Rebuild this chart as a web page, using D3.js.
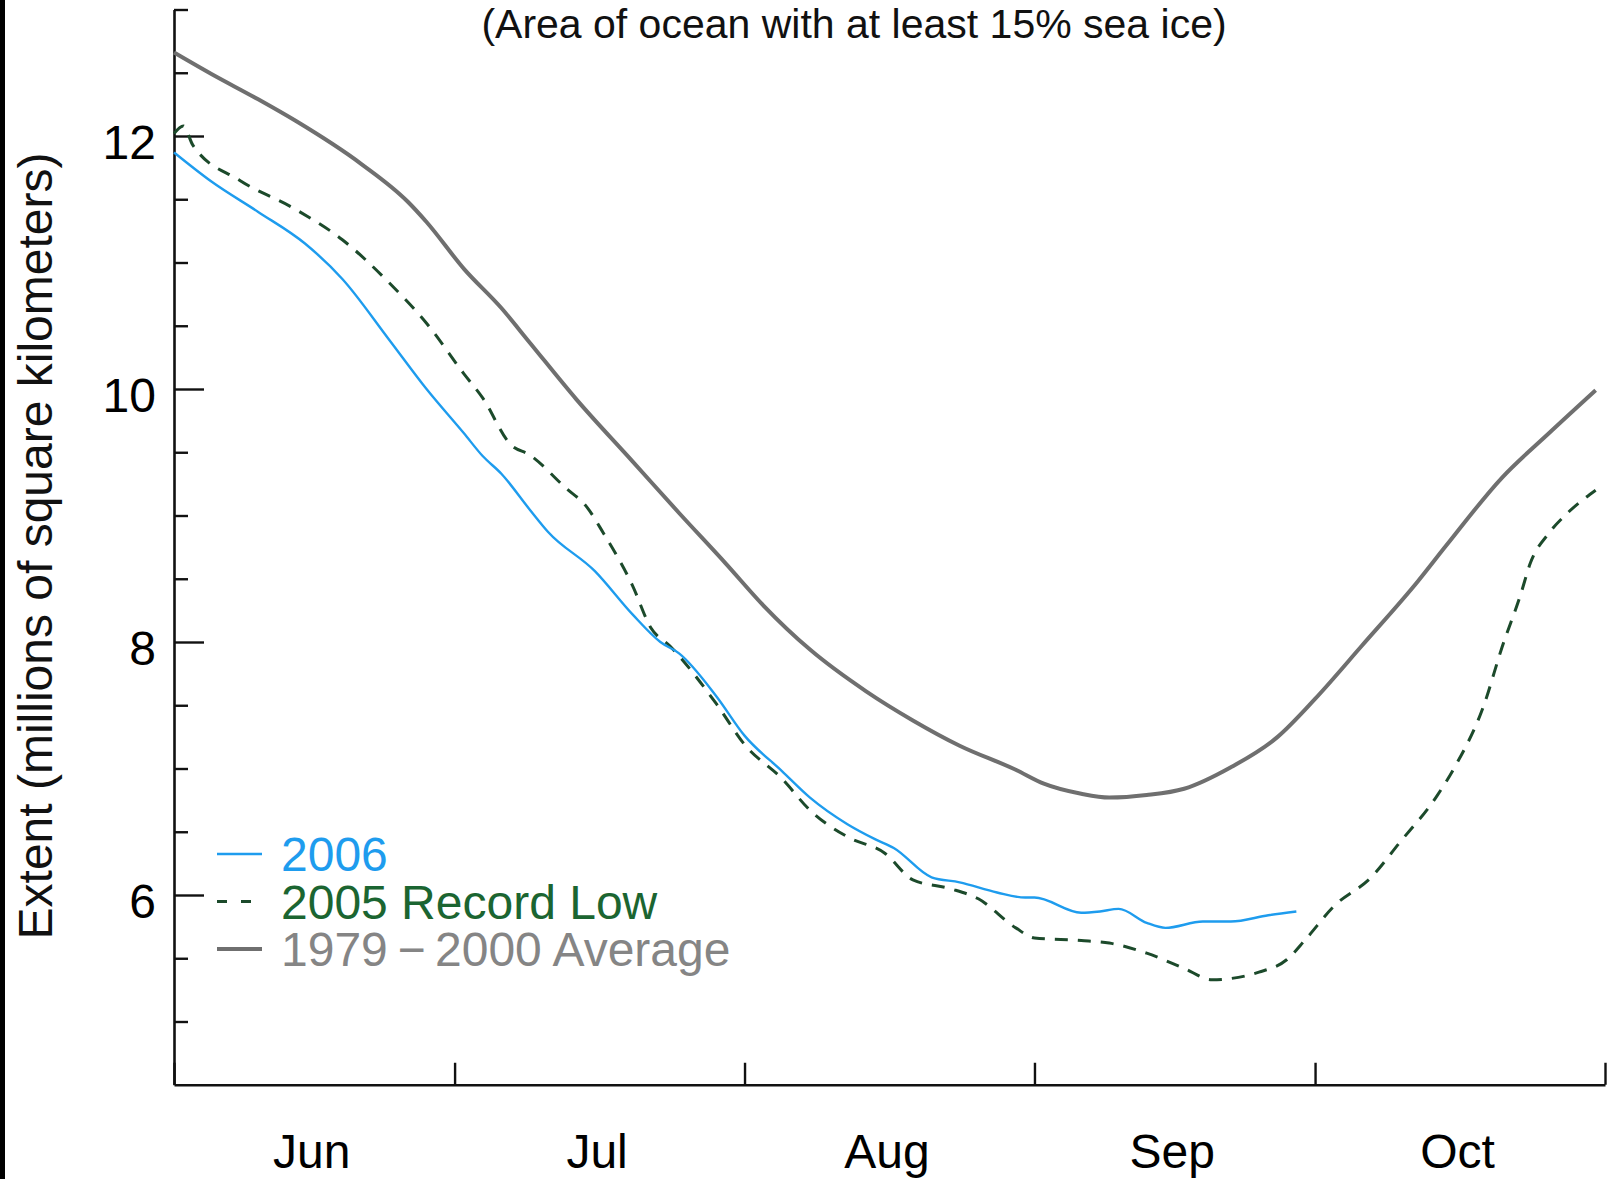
<!DOCTYPE html>
<html>
<head>
<meta charset="utf-8">
<script src="https://cdn.jsdelivr.net/npm/d3@7"></script>
<style>
  html, body { margin: 0; padding: 0; background: #fff; }
  svg { display: block; }
  text { font-family: "Liberation Sans", Arial, Helvetica, sans-serif; }
</style>
</head>
<body>
<svg id="chart" width="1607" height="1179"></svg>
<script>
// Arctic sea ice extent, June through October (millions of km²).
// Day offsets are counted from June 1.

const avgDays   = [0, 4, 9, 13, 20, 25, 27, 31, 35, 38, 43, 49, 54, 59, 63, 68, 74, 79, 84, 90, 93, 97, 100, 104, 108, 113, 118, 122, 127, 133, 136, 142, 147, 152];
const avgExtent = [12.66, 12.49, 12.29, 12.12, 11.78, 11.48, 11.32, 10.95, 10.64, 10.37, 9.92, 9.43, 9.02, 8.62, 8.29, 7.94, 7.61, 7.38, 7.18, 6.99, 6.88, 6.80, 6.77, 6.79, 6.84, 7.01, 7.25, 7.55, 7.97, 8.48, 8.76, 9.30, 9.65, 9.99];

const y2006Days   = [0, 4, 9, 14, 18, 23, 27, 31, 33, 35, 38, 40, 45, 49, 52, 54, 58, 61, 65, 68, 72, 75, 77, 81, 84, 88, 91, 92, 97, 99, 101, 104, 106, 110, 113, 117, 120];
const y2006Extent = [11.87, 11.64, 11.40, 11.15, 10.87, 10.39, 10.00, 9.65, 9.47, 9.33, 9.05, 8.87, 8.56, 8.22, 8.00, 7.91, 7.57, 7.26, 6.98, 6.77, 6.56, 6.44, 6.37, 6.14, 6.10, 6.02, 5.98, 5.98, 5.86, 5.87, 5.89, 5.78, 5.74, 5.79, 5.79, 5.84, 5.87];

const y2005Days   = [0, 1, 2, 7, 13, 18, 23, 27, 31, 33, 36, 38, 42, 44, 46, 49, 51, 53, 58, 61, 65, 68, 72, 76, 79, 83, 86, 90, 92, 97, 100, 104, 108, 111, 113, 116, 119, 121, 124, 128, 131, 135, 137, 140, 142, 144, 145, 147, 149, 152];
const y2005Extent = [12.02, 12.08, 11.93, 11.65, 11.42, 11.18, 10.84, 10.52, 10.12, 9.93, 9.56, 9.48, 9.21, 9.08, 8.85, 8.45, 8.11, 7.97, 7.51, 7.19, 6.92, 6.67, 6.46, 6.33, 6.12, 6.05, 5.97, 5.74, 5.66, 5.64, 5.62, 5.54, 5.42, 5.33, 5.34, 5.39, 5.49, 5.65, 5.91, 6.14, 6.41, 6.78, 7.02, 7.49, 7.96, 8.38, 8.62, 8.86, 9.02, 9.20];

const yMajorTicks = [6, 8, 10, 12];
const yMinorTicks = [5, 5.5, 6.5, 7, 7.5, 8.5, 9, 9.5, 10.5, 11, 11.5, 12.5, 13];
const monthLabels = ["Jun", "Jul", "Aug", "Sep", "Oct"];

const titleText  = "(Area of ocean with at least 15% sea ice)";
const yAxisTitle = "Extent (millions of square kilometers)";
const legendLabels = ["2006", "2005 Record Low", "1979\u2009\u2212\u20092000 Average"];

const colors = { y2006: "#1e9cee", y2005: "#1c4a2b", avg: "#6f6f6f" };
const textColors = { y2006: "#1e9cee", y2005: "#1b6531", avg: "#858585" };
const dashPattern = "13,10";

const DAY = 864e5;
const start = Date.UTC(2006, 5, 1);
const toDate = d => new Date(start + d * DAY);

const svg = d3.select("#chart");

// dark strip along the left edge of the figure
svg.append("rect").attr("x", 0).attr("y", 0).attr("width", 5).attr("height", 1179).attr("fill", "#000");

const x = d3.scaleUtc()
  .domain([new Date(start), new Date(Date.UTC(2006, 10, 1))])
  .range([174, 1605]);
const y = d3.scaleLinear().domain([4.5, 13]).range([1084.75, 9.5]);

const axisColor = "#111";

// Y axis: labelled major ticks and short minor ticks, both pointing inward
const yMajor = svg.append("g").attr("transform", `translate(${x.range()[0]},0)`)
  .call(d3.axisLeft(y).tickValues(yMajorTicks).tickSizeInner(-30).tickSizeOuter(0).tickPadding(18).tickFormat(d3.format("d")));
const yMinor = svg.append("g").attr("transform", `translate(${x.range()[0]},0)`)
  .call(d3.axisLeft(y).tickValues(yMinorTicks).tickSizeInner(-14).tickSizeOuter(0).tickFormat(""));
yMinor.select(".domain").remove();

// X axis: month boundary ticks pointing up, month names centred in each month
const monthStarts = d3.utcMonth.range(new Date(start), new Date(Date.UTC(2006, 10, 2)));
const xTicks = svg.append("g").attr("transform", `translate(0,${y.range()[0]})`)
  .call(d3.axisBottom(x).tickValues(monthStarts).tickSizeInner(-22).tickSizeOuter(0).tickFormat(""));
const monthMids = monthStarts.slice(0, -1).map((m, i) => new Date((+m + +monthStarts[i + 1]) / 2));
const xLabels = svg.append("g").attr("transform", `translate(-3,${y.range()[0]})`)
  .call(d3.axisBottom(x).tickValues(monthMids).tickSize(0).tickPadding(49).tickFormat((d, i) => monthLabels[i]));
xLabels.select(".domain").remove();

svg.selectAll(".domain").attr("stroke", axisColor).attr("stroke-width", 2.6);
svg.selectAll(".tick line").attr("stroke", axisColor).attr("stroke-width", 2.4);
svg.selectAll(".tick text").attr("fill", "#000").attr("font-size", 48)
  .attr("font-family", "'Liberation Sans', Arial, Helvetica, sans-serif");
yMajor.selectAll(".tick text").attr("dy", "0.46em");

// Titles
svg.append("text").attr("x", 854).attr("y", 38).attr("text-anchor", "middle")
  .attr("font-size", 41).attr("fill", "#111").text(titleText);
svg.append("text").attr("transform", "translate(52,546) rotate(-90)").attr("text-anchor", "middle")
  .attr("font-size", 48).attr("fill", "#111").text(yAxisTitle);

// Series
const line = d3.line().x(d => x(toDate(d[0]))).y(d => y(d[1])).curve(d3.curveMonotoneX);
const zip = (a, b) => a.map((d, i) => [d, b[i]]);

svg.append("path").datum(zip(avgDays, avgExtent)).attr("d", line)
  .attr("fill", "none").attr("stroke", colors.avg).attr("stroke-width", 4).attr("stroke-linejoin", "round");
svg.append("path").datum(zip(y2005Days, y2005Extent)).attr("d", line)
  .attr("fill", "none").attr("stroke", colors.y2005).attr("stroke-width", 3).attr("stroke-dasharray", dashPattern);
svg.append("path").datum(zip(y2006Days, y2006Extent)).attr("d", line)
  .attr("fill", "none").attr("stroke", colors.y2006).attr("stroke-width", 2.4).attr("stroke-linejoin", "round");

// Legend
const legend = [
  { label: legendLabels[0], stroke: colors.y2006, text: textColors.y2006, width: 2.4, dash: null },
  { label: legendLabels[1], stroke: colors.y2005, text: textColors.y2005, width: 3,   dash: "10,14" },
  { label: legendLabels[2], stroke: colors.avg,   text: textColors.avg,   width: 4,   dash: null }
];
const lg = svg.append("g").attr("transform", "translate(217,871)");
legend.forEach((d, i) => {
  const row = lg.append("g").attr("transform", `translate(0,${i * 47.5})`);
  row.append("line").attr("x1", 0).attr("x2", 45).attr("y1", -17).attr("y2", -17)
    .attr("stroke", d.stroke).attr("stroke-width", d.width).attr("stroke-dasharray", d.dash);
  row.append("text").attr("x", 64).attr("y", 0).attr("font-size", 48).attr("fill", d.text).text(d.label);
});
</script>
</body>
</html>
